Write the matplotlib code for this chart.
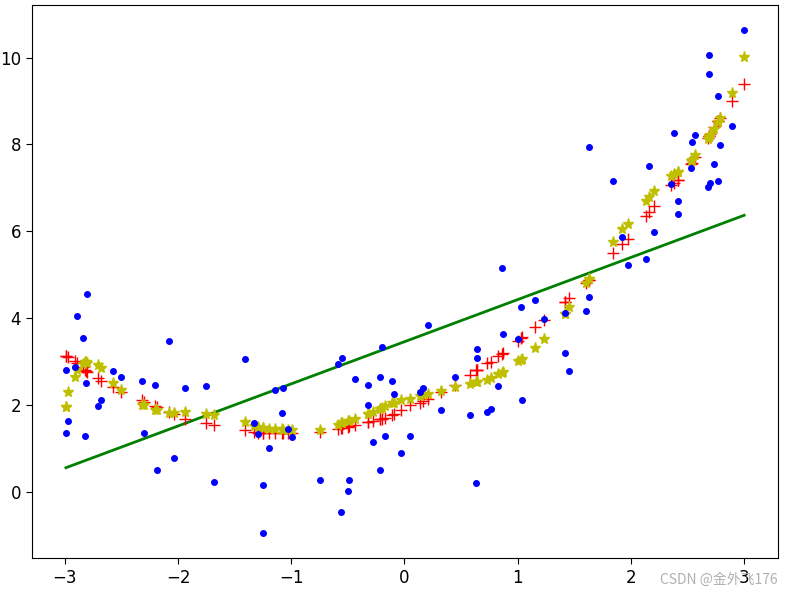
# polyfit_compare_plot.py
# Scatter of noisy samples with linear / quadratic / high-degree fit predictions

import matplotlib.pyplot as plt

# === 1. Data ===
x_vals = [-2.99, -2.99, -2.97, -2.91, -2.89, -2.84, -2.82, -2.81, -2.80, -2.71,
          -2.68, -2.57, -2.50, -2.32, -2.30, -2.20, -2.19, -2.08, -2.04, -1.94,
          -1.75, -1.68, -1.41, -1.33, -1.29, -1.25, -1.25, -1.20, -1.14, -1.08,
          -1.07, -1.03, -0.99, -0.75, -0.59, -0.56, -0.55, -0.50, -0.49, -0.44,
          -0.32, -0.32, -0.28, -0.22, -0.22, -0.20, -0.17, -0.11, -0.09, -0.03,
          0.05, 0.14, 0.16, 0.21, 0.32, 0.45, 0.58, 0.63, 0.64, 0.64,
          0.73, 0.76, 0.83, 0.86, 0.87, 1.00, 1.03, 1.04, 1.15, 1.23,
          1.42, 1.42, 1.45, 1.60, 1.63, 1.63, 1.84, 1.92, 1.97, 2.13,
          2.16, 2.20, 2.35, 2.38, 2.42, 2.42, 2.53, 2.54, 2.57, 2.68,
          2.69, 2.69, 2.70, 2.73, 2.77, 2.77, 2.79, 2.89, 3.00]

y_vals = [2.81, 1.37, 1.64, 2.88, 4.06, 3.54, 1.30, 2.50, 4.57, 1.99,
          2.13, 2.78, 2.64, 2.55, 1.37, 2.47, 0.50, 3.47, 0.79, 2.40,
          2.44, 0.23, 3.06, 1.58, 1.34, 0.16, -0.94, 1.02, 2.36, 1.82,
          2.40, 1.44, 1.27, 0.27, 2.94, -0.45, 3.09, 0.02, 0.27, 2.61,
          2.47, 2.00, 1.16, 2.64, 0.50, 3.33, 1.30, 2.55, 2.26, 0.89,
          1.30, 2.30, 2.40, 3.85, 1.89, 2.64, 1.78, 0.20, 3.29, 3.09,
          1.84, 1.92, 2.45, 5.15, 3.64, 3.53, 4.27, 2.13, 4.43, 3.99,
          4.12, 3.20, 2.78, 4.16, 7.94, 4.50, 7.15, 5.88, 5.22, 5.36,
          7.50, 5.99, 7.09, 8.26, 6.70, 6.39, 7.46, 8.05, 8.22, 7.02,
          10.05, 9.63, 7.12, 7.56, 9.11, 7.15, 7.98, 8.42, 10.63]

# degree-2 predictions (red +)
y_quad = [3.14, 3.14, 3.10, 3.02, 2.98, 2.88, 2.82, 2.79, 2.77, 2.62,
          2.55, 2.42, 2.30, 2.11, 2.08, 1.97, 1.96, 1.85, 1.80, 1.69,
          1.59, 1.54, 1.42, 1.38, 1.36, 1.36, 1.36, 1.36, 1.35, 1.35,
          1.35, 1.36, 1.36, 1.38, 1.45, 1.47, 1.48, 1.50, 1.51, 1.54,
          1.61, 1.61, 1.63, 1.67, 1.67, 1.69, 1.71, 1.77, 1.80, 1.88,
          2.01, 2.06, 2.09, 2.15, 2.30, 2.47, 2.70, 2.80, 2.82, 2.82,
          2.96, 3.00, 3.14, 3.18, 3.20, 3.48, 3.55, 3.57, 3.80, 3.96,
          4.37, 4.37, 4.46, 4.82, 4.88, 4.88, 5.51, 5.70, 5.82, 6.36,
          6.45, 6.58, 7.06, 7.12, 7.18, 7.18, 7.55, 7.58, 7.72, 8.15,
          8.20, 8.20, 8.25, 8.40, 8.55, 8.55, 8.62, 8.99, 9.39]

# high-degree predictions (yellow *)
y_high = [1.96, 1.96, 2.30, 2.65, 2.80, 2.95, 2.99, 2.99, 2.98, 2.92,
          2.85, 2.51, 2.34, 2.00, 2.00, 1.89, 1.88, 1.83, 1.82, 1.84,
          1.80, 1.77, 1.61, 1.53, 1.50, 1.48, 1.48, 1.46, 1.46, 1.44,
          1.43, 1.42, 1.42, 1.42, 1.55, 1.58, 1.59, 1.63, 1.64, 1.68,
          1.79, 1.79, 1.84, 1.91, 1.91, 1.93, 1.97, 2.04, 2.06, 2.11,
          2.15, 2.22, 2.23, 2.26, 2.33, 2.42, 2.49, 2.53, 2.54, 2.54,
          2.59, 2.62, 2.72, 2.75, 2.77, 3.01, 3.05, 3.07, 3.32, 3.52,
          4.10, 4.10, 4.25, 4.82, 4.90, 4.90, 5.76, 6.05, 6.18, 6.70,
          6.80, 6.92, 7.27, 7.32, 7.36, 7.36, 7.62, 7.65, 7.75, 8.12,
          8.17, 8.17, 8.22, 8.35, 8.52, 8.52, 8.62, 9.18, 10.02]

# linear fit (green line) end points
line_x = [-2.99, 3.00]
line_y = [0.56, 6.37]

# === 2. Plot ===
fig = plt.figure(figsize=(7.89, 5.92), dpi=100)
ax = fig.add_axes([0.0406, 0.0574, 0.9455, 0.934])

ax.plot(line_x, line_y, 'g-', linewidth=2)
ax.plot(x_vals, y_quad, 'r+', markersize=8)
ax.plot(x_vals, y_high, 'y*', markersize=8)
ax.plot(x_vals, y_vals, 'b.', markersize=8)

ax.set_xticks([-3, -2, -1, 0, 1, 2, 3])
ax.set_yticks([0, 2, 4, 6, 8, 10])
ax.tick_params(labelsize=12, length=4.5)

# watermark
fig.text(0.986, 0.008, "CSDN @金外飞176", ha='right', va='bottom', fontsize=10,
         color='#b0b0b0', family=['Noto Sans CJK SC', 'DejaVu Sans'])

# === 3. Save ===
fig.savefig("out.png", dpi=100)
plt.close(fig)
